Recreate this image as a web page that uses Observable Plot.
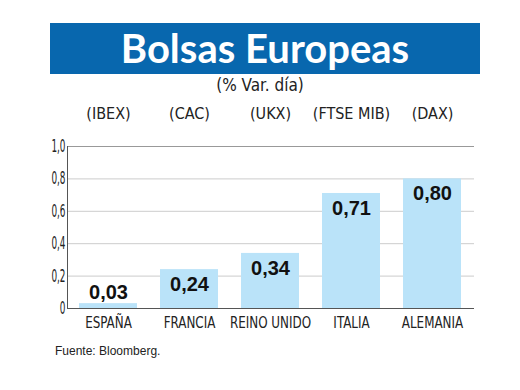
<!DOCTYPE html>
<html><head><meta charset="utf-8">
<script src="https://cdn.jsdelivr.net/npm/d3@7"></script>
<script src="https://cdn.jsdelivr.net/npm/@observablehq/plot@0.6"></script>
<style>
body{margin:0;background:#fff;width:520px;height:390px;position:relative;overflow:hidden;font-family:"DejaVu Sans Condensed",sans-serif;}
#banner{position:absolute;left:50px;top:23px;width:430px;height:51px;background:#0867AE;color:#fff;font-family:Lato,sans-serif;font-weight:700;font-size:40px;text-align:center;line-height:51px;}
#sub{position:absolute;left:0;width:520px;top:75px;text-align:center;font-size:17px;color:#222}
#chart{position:absolute;left:0;top:100px}
#foot{position:absolute;left:55px;top:344px;font-size:12px;font-family:"Liberation Sans",sans-serif;color:#222}
</style></head><body>
<div id="banner">Bolsas Europeas</div>
<div id="sub">(% Var. día)</div>
<div id="chart"></div>
<div id="foot">Fuente: Bloomberg.</div>
<script>
const paises = ["ESPAÑA","FRANCIA","REINO UNIDO","ITALIA","ALEMANIA"];
const indices = ["(IBEX)","(CAC)","(UKX)","(FTSE MIB)","(DAX)"];
const valores = [0.03,0.24,0.34,0.71,0.80];
const yTicks = [0,0.2,0.4,0.6,0.8,1.0];

const data = paises.map((p,i)=>({pais:p, indice:indices[i], valor:valores[i]}));
const fmt = d => d===0 ? "0" : d.toFixed(2).replace(".",",");
const fmtAxis = d => d===0 ? "0" : d.toFixed(1).replace(".",",");
const cond = "'DejaVu Sans Condensed',sans-serif";
const bold = "'Liberation Sans', Arial, sans-serif";

const chart = Plot.plot({
  width:520, height:235,
  marginTop:46, marginBottom:27, marginLeft:67, marginRight:46,
  style:{fontFamily:cond, color:"#222", background:"transparent"},
  x:{domain:paises, paddingInner:0.28, paddingOuter:0.14},
  y:{domain:[0,1]},
  marks:[
    Plot.gridY(yTicks.slice(1,-1), {stroke:"#cccccc", strokeOpacity:1}),
    Plot.ruleY([1], {stroke:"#999"}),
    Plot.barY(data, {x:"pais", y:"valor", fill:"#BAE3F9"}),
    Plot.ruleY([0], {stroke:"#555"}),
    Plot.frame({anchor:"left", stroke:"#555"}),
    Plot.axisY(yTicks, {tickSize:0, tickPadding:2, tickFormat:fmtAxis, fontSize:17, label:null}),
    Plot.axisX({tickSize:0, tickPadding:8, fontSize:16, label:null}),
    Plot.text(data.filter(d=>d.valor>=0.1), {x:"pais", y:"valor", text:d=>fmt(d.valor), dy:15, fontSize:20, fontWeight:"bold", fontFamily:bold, fill:"#111"}),
    Plot.text(data.filter(d=>d.valor<0.1), {x:"pais", y:"valor", text:d=>fmt(d.valor), dy:-11, fontSize:20, fontWeight:"bold", fontFamily:bold, fill:"#111"}),
    Plot.text(data, {x:"pais", text:"indice", frameAnchor:"top", dy:-39, fontSize:16, ariaLabel:"indices"})
  ]
});

function condense(sel, s){
  chart.querySelectorAll(sel).forEach(t=>{
    const x = +(t.getAttribute("x")||0);
    const tr = t.getAttribute("transform")||"";
    t.removeAttribute("x");
    t.setAttribute("transform", `${tr} translate(${x},0) scale(${s},1)`);
  });
}
condense('[aria-label="x-axis tick label"] text', 0.83);
condense('[aria-label="y-axis tick label"] text', 0.58);
condense('[aria-label="indices"] text', 0.88);
document.getElementById("chart").appendChild(chart);
</script>
</body></html>
